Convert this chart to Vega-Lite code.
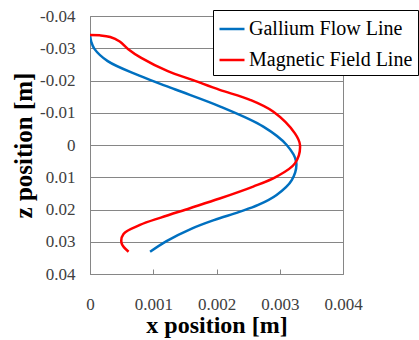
{
  "$schema": "https://vega.github.io/schema/vega-lite/v6.json",
  "autosize": "none",
  "width": 253,
  "height": 258,
  "padding": {"left": 90, "top": 16, "right": 76, "bottom": 66},
  "background": "white",
  "config": {
    "view": {"stroke": "#868686", "strokeWidth": 1},
    "font": "Liberation Serif"
  },
  "data": {
    "values": [
      {"s": "Gallium Flow Line", "i": 1, "x": 0, "z": -0.0341},
      {"s": "Gallium Flow Line", "i": 2, "x": 0.00002, "z": -0.032},
      {"s": "Gallium Flow Line", "i": 3, "x": 0.00007, "z": -0.0298},
      {"s": "Gallium Flow Line", "i": 4, "x": 0.00028, "z": -0.026},
      {"s": "Gallium Flow Line", "i": 5, "x": 0.00078, "z": -0.0215},
      {"s": "Gallium Flow Line", "i": 6, "x": 0.00135, "z": -0.0172},
      {"s": "Gallium Flow Line", "i": 7, "x": 0.00206, "z": -0.0119},
      {"s": "Gallium Flow Line", "i": 8, "x": 0.00274, "z": -0.0057},
      {"s": "Gallium Flow Line", "i": 9, "x": 0.00311, "z": 0},
      {"s": "Gallium Flow Line", "i": 10, "x": 0.00326, "z": 0.0052},
      {"s": "Gallium Flow Line", "i": 11, "x": 0.00319, "z": 0.0109},
      {"s": "Gallium Flow Line", "i": 12, "x": 0.00295, "z": 0.0155},
      {"s": "Gallium Flow Line", "i": 13, "x": 0.00266, "z": 0.0186},
      {"s": "Gallium Flow Line", "i": 14, "x": 0.00235, "z": 0.0208},
      {"s": "Gallium Flow Line", "i": 15, "x": 0.00196, "z": 0.0233},
      {"s": "Gallium Flow Line", "i": 16, "x": 0.0016, "z": 0.026},
      {"s": "Gallium Flow Line", "i": 17, "x": 0.00121, "z": 0.0298},
      {"s": "Gallium Flow Line", "i": 18, "x": 0.00095, "z": 0.0331},
      {"s": "Magnetic Field Line", "i": 1, "x": 0, "z": -0.0341},
      {"s": "Magnetic Field Line", "i": 2, "x": 0.00015, "z": -0.034},
      {"s": "Magnetic Field Line", "i": 3, "x": 0.00032, "z": -0.0335},
      {"s": "Magnetic Field Line", "i": 4, "x": 0.00047, "z": -0.0321},
      {"s": "Magnetic Field Line", "i": 5, "x": 0.0006, "z": -0.0298},
      {"s": "Magnetic Field Line", "i": 6, "x": 0.00081, "z": -0.027},
      {"s": "Magnetic Field Line", "i": 7, "x": 0.00123, "z": -0.0229},
      {"s": "Magnetic Field Line", "i": 8, "x": 0.00163, "z": -0.0201},
      {"s": "Magnetic Field Line", "i": 9, "x": 0.00205, "z": -0.0171},
      {"s": "Magnetic Field Line", "i": 10, "x": 0.00253, "z": -0.014},
      {"s": "Magnetic Field Line", "i": 11, "x": 0.0029, "z": -0.0103},
      {"s": "Magnetic Field Line", "i": 12, "x": 0.00324, "z": -0.0036},
      {"s": "Magnetic Field Line", "i": 13, "x": 0.00332, "z": 0},
      {"s": "Magnetic Field Line", "i": 14, "x": 0.00324, "z": 0.0057},
      {"s": "Magnetic Field Line", "i": 15, "x": 0.00295, "z": 0.0098},
      {"s": "Magnetic Field Line", "i": 16, "x": 0.00258, "z": 0.0129},
      {"s": "Magnetic Field Line", "i": 17, "x": 0.00205, "z": 0.0166},
      {"s": "Magnetic Field Line", "i": 18, "x": 0.00158, "z": 0.0196},
      {"s": "Magnetic Field Line", "i": 19, "x": 0.00112, "z": 0.0225},
      {"s": "Magnetic Field Line", "i": 20, "x": 0.00079, "z": 0.0248},
      {"s": "Magnetic Field Line", "i": 21, "x": 0.00053, "z": 0.0276},
      {"s": "Magnetic Field Line", "i": 22, "x": 0.0005, "z": 0.0305},
      {"s": "Magnetic Field Line", "i": 23, "x": 0.00061, "z": 0.0331}
    ]
  },
  "mark": {"type": "line", "interpolate": "catmull-rom", "strokeWidth": 2.5, "clip": true},
  "encoding": {
    "x": {
      "field": "x", "type": "quantitative",
      "scale": {"domain": [0, 0.004], "nice": false, "zero": false},
      "axis": {
        "values": [0, 0.001, 0.002, 0.003, 0.004],
        "format": "~g",
        "grid": false,
        "domain": false,
        "ticks": true,
        "tickSize": -5,
        "tickColor": "#868686",
        "labelFlush": false,
        "labelPadding": 27,
        "labelFontSize": 17,
        "labelColor": "#404040",
        "title": "x position [m]",
        "titleFontSize": 24,
        "titleFontWeight": "bold",
        "titleColor": "black",
        "titlePadding": 1
      }
    },
    "y": {
      "field": "z", "type": "quantitative",
      "scale": {"domain": [-0.04, 0.04], "reverse": true, "nice": false, "zero": false},
      "axis": {
        "values": [-0.04, -0.03, -0.02, -0.01, 0, 0.01, 0.02, 0.03, 0.04],
        "labelExpr": "replace(format(datum.value, '~g'), '\u2212', '-')",
        "grid": true,
        "gridColor": "#868686",
        "gridWidth": 1,
        "gridOpacity": 1,
        "domain": true,
        "domainColor": "#868686",
        "ticks": false,
        "labelFlush": false,
        "labelPadding": 15,
        "labelFontSize": 17,
        "labelColor": "#404040",
        "title": "z position [m]",
        "titleFontSize": 25,
        "titleFontWeight": "bold",
        "titleColor": "black",
        "titlePadding": 3
      }
    },
    "color": {
      "field": "s", "type": "nominal",
      "scale": {"domain": ["Gallium Flow Line", "Magnetic Field Line"], "range": ["#0070C0", "#FF0000"]},
      "legend": {
        "title": null,
        "orient": "none",
        "legendX": 123,
        "legendY": -6,
        "fillColor": "white",
        "strokeColor": "black",
        "padding": 5,
        "symbolType": "stroke",
        "symbolSize": 625,
        "symbolStrokeWidth": 2.5,
        "rowPadding": 7,
        "labelOffset": 3,
        "labelFontSize": 20,
        "labelColor": "black",
        "labelLimit": 300
      }
    },
    "order": {"field": "i", "type": "quantitative"}
  }
}
